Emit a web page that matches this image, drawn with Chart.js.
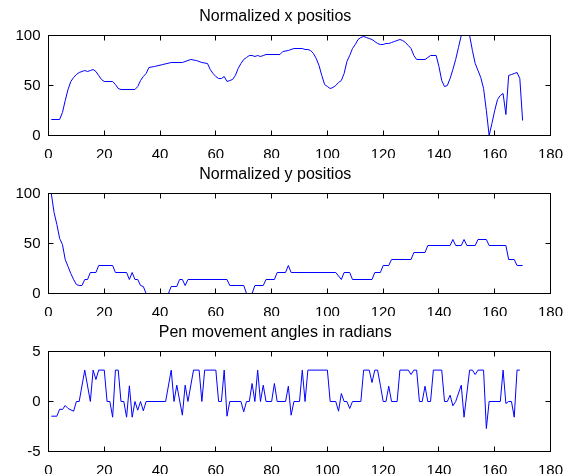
<!DOCTYPE html>
<html>
<head>
<meta charset="utf-8">
<script src="https://cdn.jsdelivr.net/npm/chart.js@4.4.1/dist/chart.umd.min.js"></script>
<style>
  html, body { margin: 0; padding: 0; background: #fff; }
  body { width: 580px; height: 474px; position: relative; overflow: hidden; }
  .panel { position: absolute; left: 0; width: 580px; height: 158px; }
  .panel canvas { display: block; }
</style>
</head>
<body>
<div class="panel" style="top:0px"><canvas id="chart-x" width="580" height="158"></canvas></div>
<div class="panel" style="top:158px"><canvas id="chart-y" width="580" height="158"></canvas></div>
<div class="panel" style="top:316px"><canvas id="chart-angle" width="580" height="158"></canvas></div>
<script>
// [sample index, value] pairs
const xPositions = [
  [1,16],[4,16],[5,23],[6,35],[7,46],[8,54],[9,58],[10,61],[11,63],[12,64],[13,65],[14,64],[15,65],[16,66],
  [17,64],[18,60],[19,56],[20,54],[23,54],[24,51],[25,47],[26,46],[31,46],[32,49],[33,55],[34,59],[35,62],
  [36,68],[38,69],[41,71],[44,73],[48,73],[51,76],[53,75],[55,73],[57,72],[58,66],[59,62],[60,59],[61,57],
  [62,57],[63,59],[64,54],[65,55],[66,56],[67,60],[68,67],[69,72],[70,76],[71,78],[72,80],[73,80],[74,79],
  [75,80],[76,79],[77,80],[78,81],[83,81],[84,84],[86,85],[88,87],[91,87],[92,86],[93,86],[94,85],[95,82],
  [96,77],[97,70],[98,60],[99,51],[100,49],[101,47],[102,48],[103,50],[104,53],[105,55],[106,62],[107,74],
  [108,80],[109,87],[110,91],[111,96],[112,98],[113,99],[114,98],[115,97],[116,96],[117,94],[118,92],
  [119,91],[120,91],[121,92],[122,92],[123,93],[124,94],[125,95],[126,96],[127,95],[128,93],[129,90],
  [130,87],[131,80],[132,76],[135,76],[136,78],[137,80],[139,80],[140,69],[141,55],[142,49],[143,50],
  [144,57],[145,66],[146,76],[147,88],[148,100],[151,100],[152,85],[153,72],[154,65],[155,58],[156,47],
  [157,25],[158,0],[159,12],[160,25],[161,36],[162,40],[163,42],[164,21],[165,60],[166,61],[167,62],
  [168,63],[169,57],[170,15]
];

const yPositions = [
  [1,100],[2,81],[3,69],[4,55],[5,49],[6,34],[7,27],[8,20],[9,14],[10,9],[11,8],[12,8],[13,14],[14,14],
  [15,21],[16,21],[17,21],[18,28],[23,28],[24,21],[28,21],[29,14],[30,21],[31,14],[32,14],[33,8],[34,7],
  [35,0],[43,0],[44,7],[46,7],[47,14],[48,14],[49,8],[50,14],[64,14],[65,8],[70,8],[71,0],[73,0],[74,8],
  [77,8],[78,14],[81,14],[82,21],[85,21],[86,28],[87,21],[103,21],[105,14],[106,21],[108,21],[109,14],
  [116,14],[117,21],[119,21],[120,28],[122,28],[123,34],[130,34],[131,41],[135,41],[136,48],[144,48],
  [145,54],[146,48],[148,48],[149,54],[150,48],[153,48],[154,54],[157,54],[158,48],[164,48],[165,34],
  [167,34],[168,28],[170,28]
];

const penAngles = [
  [1,-1.47],[3,-1.47],[4,-0.77],[5,-0.8],[6,-0.4],[7,-0.7],[9,-0.97],[10,0],[11,0],[13,3.14],[15,0],
  [16,3.14],[17,2.2],[18,3.14],[20,3.14],[21,0],[22,0],[23,-1.57],[24,3.14],[25,3.14],[26,0],[27,0],
  [28,-1.57],[29,1.57],[30,-1.57],[31,0],[32,-0.87],[33,0],[34,-0.93],[35,0],[42,0],[44,3.14],[45,0],
  [46,1.63],[48,-1.37],[49,1.63],[50,0],[52,3.14],[54,3.14],[55,0],[56,3.14],[60,3.14],[61,0],[62,0],
  [63,3.14],[64,-1.47],[65,0],[69,0],[70,-1.03],[71,0],[72,0],[73,1.8],[74,0],[75,3.14],[76,0],[77,1.63],
  [78,0],[80,0],[81,1.8],[82,0],[85,0],[86,1.53],[87,-1.37],[88,0],[90,0],[91,3.14],[92,0],[93,3.14],
  [100,3.14],[101,0],[103,0],[104,-0.97],[105,0.8],[106,0],[107,0],[108,-0.7],[109,0],[112,0],[113,3.14],
  [115,3.14],[116,1.9],[117,3.14],[118,3.14],[119,1.63],[120,0],[121,0],[122,1.53],[123,0],[125,0],
  [126,3.14],[129,3.14],[130,2.7],[131,3.14],[132,3.14],[133,0],[134,0],[135,1.53],[136,0],[137,0],
  [138,3.14],[141,3.14],[142,0],[143,0],[144,0.63],[145,-0.43],[146,0],[148,1.63],[149,-1.57],[151,3.14],
  [152,3.14],[153,2.7],[154,3.14],[156,3.14],[157,-2.7],[158,0],[162,0],[163,3.14],[164,-0.2],[165,0],
  [166,0],[167,-1.57],[168,3.14],[169,3.14]
];

const xTicks = { min: 0, max: 180, step: 20 };
const titles = ["Normalized x positios", "Normalized y positios", "Pen movement angles in radians"];

const FONT = "'Liberation Sans', Arial, Helvetica, sans-serif";

// inward tick marks (negative tickLength) and a black axis line on every side
const inwardGrid = { display: true, drawOnChartArea: false, drawTicks: true, tickLength: -5, color: "#000", lineWidth: 1 };
const blackBorder = { display: true, color: "#000", width: 1 };

function makeChart(id, title, points, yMin, yMax, yStep) {
  const tickFont = { family: FONT, size: 15 };
  return new Chart(document.getElementById(id), {
    type: "line",
    data: {
      datasets: [
        {
          data: points.map((p) => ({ x: p[0], y: p[1] })),
          borderColor: "#0000ff",
          borderWidth: 1,
          pointRadius: 0,
          xAxisID: "x",
          yAxisID: "y",
        },
      ],
    },
    options: {
      responsive: false,
      animation: false,
      devicePixelRatio: 1,
      layout: { padding: { left: 0, right: 29.5, top: 0, bottom: 0 } },
      plugins: {
        legend: { display: false },
        tooltip: { enabled: false },
        title: {
          display: true,
          text: title,
          color: "#000",
          font: { family: FONT, size: 16, weight: "normal" },
          padding: { top: 7, bottom: 9.3 },
        },
      },
      scales: {
        x: {
          type: "linear",
          position: "bottom",
          min: xTicks.min,
          max: xTicks.max,
          ticks: { stepSize: xTicks.step, color: "#000", font: tickFont, padding: 15, maxRotation: 0 },
          grid: inwardGrid,
          border: blackBorder,
          afterFit: (s) => { s.height = 22.5; },
        },
        xTop: {
          type: "linear",
          position: "top",
          min: xTicks.min,
          max: xTicks.max,
          ticks: { stepSize: xTicks.step, display: false },
          grid: inwardGrid,
          border: blackBorder,
          afterFit: (s) => { s.height = 0; },
        },
        y: {
          type: "linear",
          position: "left",
          min: yMin,
          max: yMax,
          ticks: { stepSize: yStep, color: "#000", font: tickFont, padding: 13 },
          grid: inwardGrid,
          border: blackBorder,
          afterFit: (s) => { s.width = 48.5; },
        },
        yRight: {
          type: "linear",
          position: "right",
          min: yMin,
          max: yMax,
          ticks: { stepSize: yStep, display: false },
          grid: inwardGrid,
          border: blackBorder,
          afterFit: (s) => { s.width = 0; },
        },
      },
    },
  });
}

// frame and tick marks laid over the canvas, placed from the chart's own scales
function addFrame(chart) {
  const panel = chart.canvas.parentNode;
  const a = chart.chartArea;
  const left = Math.floor(a.left);
  const top = Math.floor(a.top);
  const right = Math.floor(a.right);
  const bottom = Math.floor(a.bottom);
  const len = 5;
  const mk = (l, t, w, h, outline) => {
    const d = document.createElement("div");
    d.style.cssText = "position:absolute;box-sizing:border-box;left:" + l + "px;top:" + t + "px;width:" + w +
      "px;height:" + h + "px;" + (outline ? "border:1px solid #000;" : "background:#000;");
    panel.appendChild(d);
  };
  mk(left, top, right - left + 1, bottom - top + 1, true);
  chart.scales.x.ticks.forEach((t) => {
    const px = Math.floor(chart.scales.x.getPixelForValue(t.value));
    mk(px, bottom - len + 1, 1, len, false);
    mk(px, top, 1, len, false);
  });
  chart.scales.y.ticks.forEach((t) => {
    const py = Math.floor(chart.scales.y.getPixelForValue(t.value));
    mk(left, py, len, 1, false);
    mk(right - len + 1, py, len, 1, false);
  });
}

addFrame(makeChart("chart-x", titles[0], xPositions, 0, 100, 50));
addFrame(makeChart("chart-y", titles[1], yPositions, 0, 100, 50));
addFrame(makeChart("chart-angle", titles[2], penAngles, -5, 5, 5));
</script>
</body>
</html>
